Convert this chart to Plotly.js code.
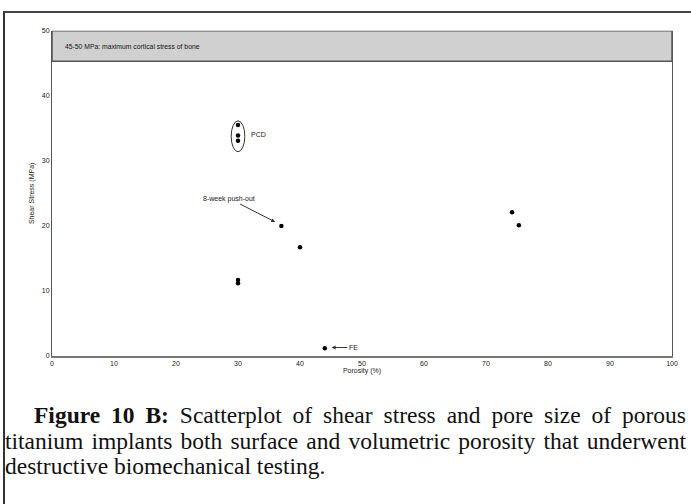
<!DOCTYPE html>
<html>
<head>
<meta charset="utf-8">
<script src="https://cdn.plot.ly/plotly-3.0.1.min.js"></script>
<style>
  html, body { margin: 0; padding: 0; background: #fff; }
  #wrap { position: relative; width: 691px; height: 504px; overflow: hidden; }
  #frame { position: absolute; left: 3px; top: 11px; width: 700px; height: 600px;
           border-top: 2px solid #444; border-left: 2px solid #333; box-sizing: border-box; }
  #chart { position: absolute; left: 0; top: 0; width: 691px; height: 392px; }
  #caption {
    position: absolute; left: 5px; top: 403px; width: 681px;
    font-family: "Liberation Serif", "Times New Roman", serif;
    font-size: 23.5px; line-height: 25.5px; color: #111;
  }
  #caption .ln { display: block; white-space: nowrap; }
  #caption .first { padding-left: 29px; }
</style>
</head>
<body>
<div id="wrap">
  <div id="frame"></div>
  <div id="chart"></div>
  <div id="caption">
    <span class="ln first j"><b>Figure 10 B:</b> Scatterplot of shear stress and pore size of porous</span>
    <span class="ln j">titanium implants both surface and volumetric porosity that underwent</span>
    <span class="ln">destructive biomechanical testing.</span>
  </div>
</div>
<script>
// Data
const porosity    = [30, 30, 30, 30, 30, 37, 40, 44, 74.2, 75.3];
const shearStress = [35.5, 33.9, 33.1, 11.7, 11.2, 20.0, 16.7, 1.2, 22.1, 20.1];
const xTicks = [0, 10, 20, 30, 40, 50, 60, 70, 80, 90, 100];
const yTicks = [0, 10, 20, 30, 40, 50];
const boneBandLow = 45.3, boneBandHigh = 50;

// justify caption lines by adjusting word spacing
document.querySelectorAll('#caption .j').forEach(function (el) {
  const pad = parseFloat(getComputedStyle(el).paddingLeft) || 0;
  const target = 681 - pad;
  const inner = document.createElement('span');
  while (el.firstChild) inner.appendChild(el.firstChild);
  el.appendChild(inner);
  const w = inner.getBoundingClientRect().width;
  const n = (inner.textContent.match(/ /g) || []).length;
  if (n > 0) inner.style.wordSpacing = ((target - w) / n) + 'px';
});

const H = 392;

const trace = {
  type: 'scatter', mode: 'markers',
  x: porosity, y: shearStress,
  marker: { color: '#000', size: 4.5 },
  hoverinfo: 'x+y'
};

const tickFont = { family: 'Liberation Sans, Arial, sans-serif', size: 7, color: '#222' };

const layout = {
  width: 691, height: H,
  margin: { l: 0, r: 0, t: 0, b: 0 },
  paper_bgcolor: 'rgba(0,0,0,0)', plot_bgcolor: 'rgba(0,0,0,0)',
  showlegend: false,
  xaxis: {
    domain: [52 / 691, 672 / 691],
    range: [0, 100], tickvals: xTicks, ticktext: xTicks.map(String),
    showgrid: false, zeroline: false, ticks: '',
    showline: true, linecolor: '#777', linewidth: 2,
    tickfont: tickFont,
    title: { text: 'Porosity (%)', font: tickFont, standoff: 2 }
  },
  yaxis: {
    domain: [(H - 356) / H, (H - 30.7) / H],
    range: [0, 50], tickvals: yTicks, ticktext: yTicks.map(String),
    showgrid: false, zeroline: false, ticks: '',
    showline: true, linecolor: '#555', linewidth: 1, mirror: true,
    tickfont: tickFont,
    title: { text: 'Shear Stress (MPa)', font: tickFont, standoff: 6 }
  },
  shapes: [
    { type: 'rect', xref: 'x', yref: 'y', x0: 0, x1: 100, y0: boneBandLow, y1: boneBandHigh,
      fillcolor: '#d1d0d1', line: { color: '#555', width: 1.5 }, layer: 'above' },
    { type: 'circle', xref: 'x', yref: 'y', x0: 28.9, x1: 31.1, y0: 31.4, y1: 36.15,
      line: { color: '#333', width: 1 } }
  ],
  annotations: [
    { xref: 'x', yref: 'y', x: 1.8, y: 47.6, xanchor: 'left', yanchor: 'middle', showarrow: false,
      text: '45-50 MPa: maximum cortical stress of bone',
      font: { family: 'Liberation Sans, Arial, sans-serif', size: 6.8, color: '#111' } },
    { xref: 'x', yref: 'y', x: 31.7, y: 34.0, xanchor: 'left', yanchor: 'middle', showarrow: false,
      text: 'PCD', font: { family: 'Liberation Sans, Arial, sans-serif', size: 7, color: '#222' } },
    { xref: 'x', yref: 'y', x: 36.0, y: 20.6, axref: 'x', ayref: 'y', ax: 28.6, ay: 24.2,
      text: '8-week push-out', showarrow: true, arrowhead: 2, arrowsize: 0.8, arrowwidth: 1, arrowcolor: '#333',
      font: { family: 'Liberation Sans, Arial, sans-serif', size: 7, color: '#222' } },
    { xref: 'x', yref: 'y', x: 45.1, y: 1.3, axref: 'x', ayref: 'y', ax: 48.6, ay: 1.3,
      text: 'FE', showarrow: true, arrowhead: 2, arrowsize: 0.8, arrowwidth: 1, arrowcolor: '#333',
      font: { family: 'Liberation Sans, Arial, sans-serif', size: 7, color: '#222' } }
  ]
};

Plotly.newPlot('chart', [trace], layout, { displayModeBar: false, staticPlot: true });
</script>
</body>
</html>
